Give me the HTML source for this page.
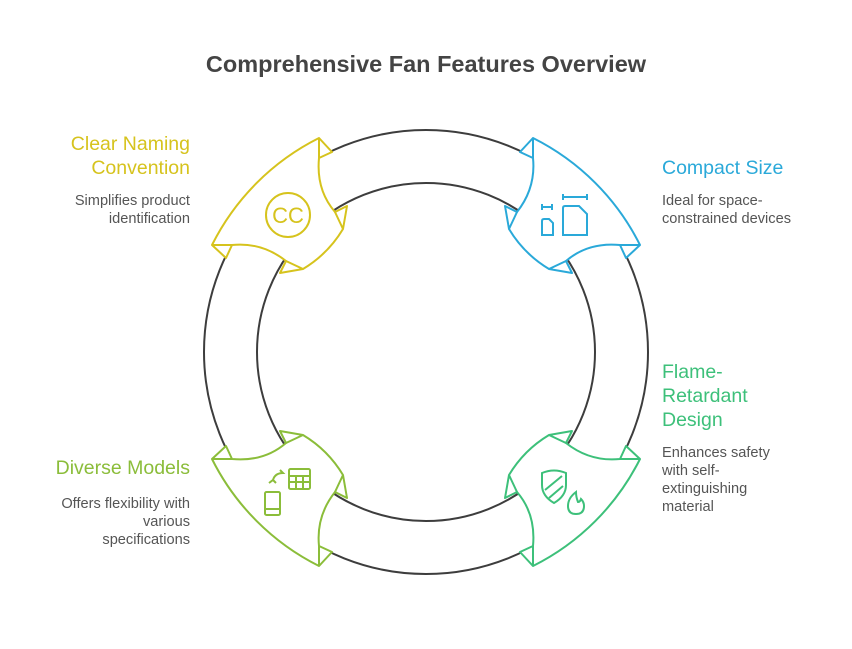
<!DOCTYPE html>
<html><head><meta charset="utf-8"><style>
body{margin:0;background:#fff;width:852px;height:649px;overflow:hidden;font-family:"Liberation Sans",sans-serif}
.t{position:absolute;font-size:19.5px;line-height:24px}
.d{position:absolute;font-size:14.6px;line-height:18px;color:#555}
</style></head><body>
<svg width="852" height="649" style="position:absolute;left:0;top:0">
<circle cx="426" cy="352" r="195.5" fill="none" stroke="#fff" stroke-width="53"/>
<circle cx="426" cy="352" r="222" fill="none" stroke="#3d3d3d" stroke-width="2"/>
<circle cx="426" cy="352" r="169" fill="none" stroke="#3d3d3d" stroke-width="2"/>
<defs>
<g id="seg">
<path d="M319,138 L332,152 L319,158 Q316,190 335,212 L347,206 L343,229 Q328,254 303,269 L280,273 L286,261 Q262,242 232,245 L226,258 L212,245 A239,239 0 0 1 319,138 Z" fill="#fff" stroke-width="2" stroke-linejoin="round"/>
<path d="M319,138 L319,158 M212,245 L232,245 M335,212 L343,229 M286,261 L303,269" fill="none" stroke-width="2"/>
</g>
</defs>
<use href="#seg" stroke="#d6c31d"/>
<use href="#seg" stroke="#2aa9d9" transform="rotate(90 426 352)"/>
<use href="#seg" stroke="#3dc07a" transform="rotate(180 426 352)"/>
<use href="#seg" stroke="#8bbd3a" transform="rotate(270 426 352)"/>
<circle cx="288" cy="215" r="22" fill="none" stroke="#d6c31d" stroke-width="2"/>
<text x="288" y="223" text-anchor="middle" font-size="22" fill="#d6c31d" font-family="Liberation Sans">CC</text>
<g fill="none" stroke="#2aa9d9" stroke-width="2">
<path d="M542,207 h10 M542,204 v6 M552,204 v6"/>
<path d="M563,197 h24 M563,194 v6 M587,194 v6"/>
<path d="M542,235 v-14 q0,-2 2,-2 h5 l4,4 v12 z"/>
<path d="M563,235 v-27 q0,-2 2,-2 h14 l8,8 v21 z"/>
</g>
<g fill="none" stroke="#3dc07a" stroke-width="2">
<path d="M542,473 q12,-5 24,0 v12 q0,11 -12,18 q-12,-7 -12,-18 z"/>
<path d="M545,490 l17,-14 M549,498 l14,-12"/>
<path d="M576,492 q-8,6 -8,14 q0,8 8,8 q8,0 8,-8 q0,-4 -3,-7 q-1,3 -3,3 q-2,-5 -2,-10 z"/>
</g>
<g fill="none" stroke="#8bbd3a" stroke-width="2">
<rect x="265" y="492" width="15" height="23" rx="1.5"/>
<path d="M265,509 h15"/>
<rect x="289" y="469" width="21" height="20" rx="1.5"/>
<path d="M289,476 h21 M289,482 h21 M296,476 v13 M303,476 v13"/>
<path d="M283,473 q-8,0 -10,7 M269,483 l4,-3 l3,3 M273,480 q2,-7 10,-7 l-3,-3"/>
</g>
</svg>
<div style="position:absolute;top:51px;left:0;width:852px;text-align:center;font-size:23.5px;font-weight:bold;color:#444">Comprehensive Fan Features Overview</div>
<div class="t" style="right:662px;top:132px;text-align:right;color:#d6c31d">Clear Naming<br>Convention</div>
<div class="d" style="right:662px;top:192px;text-align:right">Simplifies product<br>identification</div>
<div class="t" style="left:662px;top:156px;color:#2aa9d9">Compact Size</div>
<div class="d" style="left:662px;top:192px">Ideal for space-<br>constrained devices</div>
<div class="t" style="left:662px;top:360px;color:#3dc07a">Flame-<br>Retardant<br>Design</div>
<div class="d" style="left:662px;top:444px">Enhances safety<br>with self-<br>extinguishing<br>material</div>
<div class="t" style="right:662px;top:456px;text-align:right;color:#8bbd3a">Diverse Models</div>
<div class="d" style="right:662px;top:495px;text-align:right">Offers flexibility with<br>various<br>specifications</div>
</body></html>
